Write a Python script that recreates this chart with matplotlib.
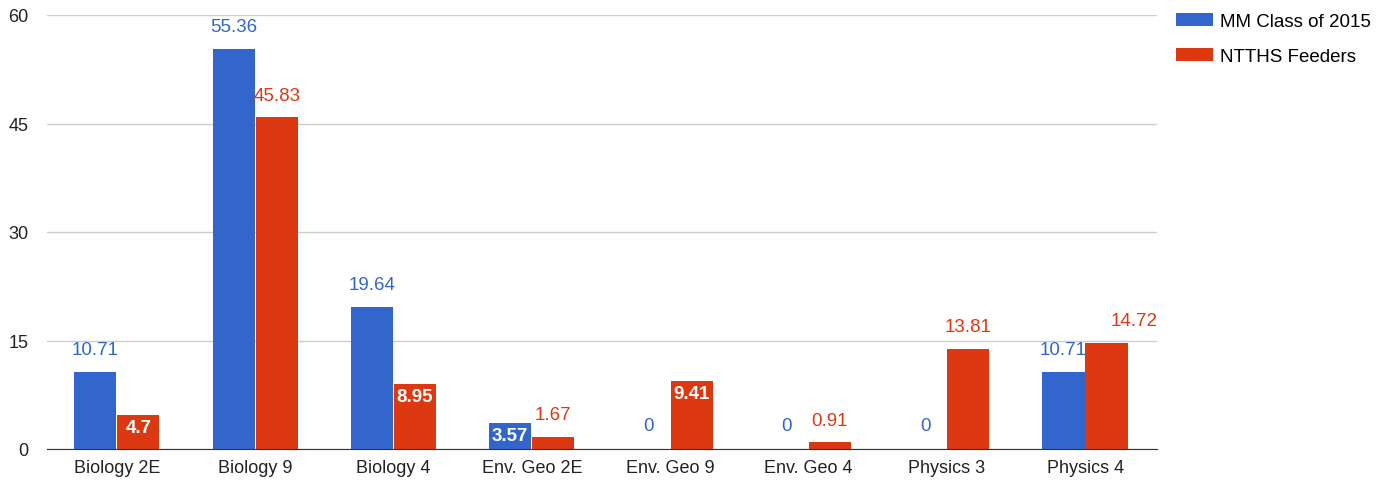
import matplotlib
matplotlib.use('Agg')
import matplotlib.pyplot as plt
import numpy as np

# data
courses = ['Biology 2E', 'Biology 9', 'Biology 4', 'Env. Geo 2E',
           'Env. Geo 9', 'Env. Geo 4', 'Physics 3', 'Physics 4']
mm_2015 = [10.71, 55.36, 19.64, 3.57, 0, 0, 0, 10.71]
ntths = [4.7, 45.83, 8.95, 1.67, 9.41, 0.91, 13.81, 14.72]
yticks = [0, 15, 30, 45, 60]

blue = '#3366cc'
red = '#dc3912'

plt.rcParams['font.family'] = ['Liberation Sans', 'DejaVu Sans']

fig = plt.figure(figsize=(13.88, 4.85), dpi=100)
# plot area roughly x 47..1157, y 16..450 px
ax = fig.add_axes([47/1388, 35/485, 1110/1388, 434/485])

x = np.arange(len(courses))
w = 0.305
gap = 0.006
b1 = ax.bar(x - w/2 - gap/2, mm_2015, w, color=blue, label='MM Class of 2015', zorder=3)
b2 = ax.bar(x + w/2 + gap/2, ntths, w, color=red, label='NTTHS Feeders', zorder=3)

def is_inside(v):
    return 3 <= v <= 10

#labels - inside the bar (white bold) when the bar is mid-sized, else above
def put_labels(bars, vals, col, other=None):
    for i, (bar, v) in enumerate(zip(bars, vals)):
        cx = bar.get_x() + bar.get_width()/2
        txt = '%g' % v
        if is_inside(v):
            ax.text(cx, v - 0.5, txt, ha='center', va='top', color='white',
                    fontsize=13.5, fontweight='bold', zorder=4)
        elif v == 0:
            ax.text(cx, 2.1, txt, ha='center', va='bottom', color=col,
                    fontsize=13.5, zorder=4)
        else:
            # nudge right if the neighbour's label sits at nearly the same height
            if other is not None and not is_inside(other[i]) and other[i] > 0 \
                    and abs(other[i] - v) < 5:
                cx += 0.2
            ax.text(cx, v + 1.9, txt, ha='center', va='bottom', color=col,
                    fontsize=13.5, zorder=4)

put_labels(b1, mm_2015, blue)
put_labels(b2, ntths, red, other=mm_2015)

ax.set_xlim(-0.505, len(courses) - 0.48)
ax.set_ylim(0, 60)
ax.set_yticks(yticks)
ax.set_xticks(x)
ax.set_xticklabels(courses)
ax.tick_params(axis='both', length=0, labelsize=13, colors='#222222')
ax.tick_params(axis='y', pad=13.5)
ax.tick_params(axis='x', pad=7)

ax.grid(axis='y', color='#cccccc', linewidth=1, zorder=0)
for s in ['top', 'right', 'left']:
    ax.spines[s].set_visible(False)
ax.spines['bottom'].set_color('#333333')
ax.spines['bottom'].set_zorder(5)

fig.legend(handles=[b1, b2], loc='upper left', bbox_to_anchor=(1168/1388, 1 - 6/485),
           frameon=False, fontsize=13.5, handlelength=2.0, handleheight=0.75,
           handletextpad=0.4, labelspacing=0.95, borderaxespad=0)

fig.savefig('out.png', dpi=100)
